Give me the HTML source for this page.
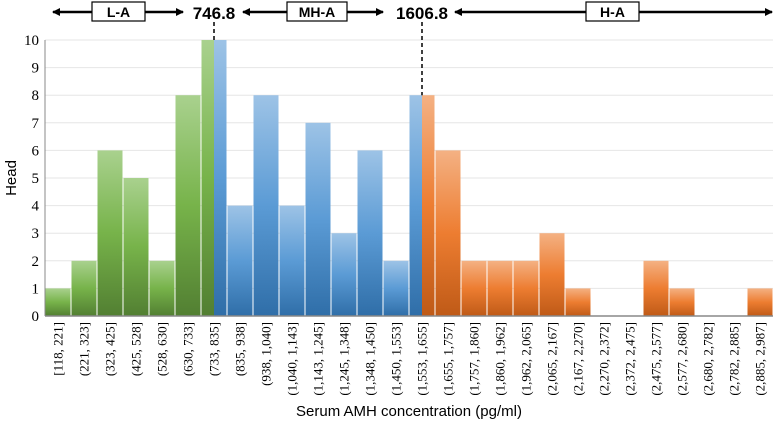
<!DOCTYPE html>
<html><head><meta charset="utf-8"><style>
html,body{margin:0;padding:0;background:#fff;}
svg{display:block;}
</style></head><body>
<svg id="chart" width="775" height="428" viewBox="0 0 775 428" xmlns="http://www.w3.org/2000/svg">
<defs>
<linearGradient id="gG" x1="0" y1="0" x2="0" y2="1"><stop offset="0" stop-color="#a9d18e"/><stop offset="0.5" stop-color="#77b34a"/><stop offset="1" stop-color="#527f32"/></linearGradient>
<linearGradient id="gB" x1="0" y1="0" x2="0" y2="1"><stop offset="0" stop-color="#9dc3e6"/><stop offset="0.5" stop-color="#5b9bd5"/><stop offset="1" stop-color="#2f6ea8"/></linearGradient>
<linearGradient id="gO" x1="0" y1="0" x2="0" y2="1"><stop offset="0" stop-color="#f4b183"/><stop offset="0.5" stop-color="#ed7d31"/><stop offset="1" stop-color="#bf5a17"/></linearGradient>
<marker id="ah" markerWidth="8" markerHeight="8" refX="7" refY="4" orient="auto-start-reverse" markerUnits="userSpaceOnUse"><path d="M0,0 L8,4 L0,8 Z" fill="#000"/></marker>
</defs>
<g id="grid"></g>
<g id="bars"></g>
<g id="axes"></g>
<g id="annot"></g>
<text transform="translate(16,178) rotate(-90)" text-anchor="middle" font-family="Liberation Sans, sans-serif" font-size="15">Head</text>
<text x="409" y="416" text-anchor="middle" font-family="Liberation Sans, sans-serif" font-size="15">Serum AMH concentration (pg/ml)</text>
</svg>
<script>
const categories = ["[118, 221]","(221, 323]","(323, 425]","(425, 528]","(528, 630]","(630, 733]","(733, 835]","(835, 938]","(938, 1,040]","(1,040, 1,143]","(1,143, 1,245]","(1,245, 1,348]","(1,348, 1,450]","(1,450, 1,553]","(1,553, 1,655]","(1,655, 1,757]","(1,757, 1,860]","(1,860, 1,962]","(1,962, 2,065]","(2,065, 2,167]","(2,167, 2,270]","(2,270, 2,372]","(2,372, 2,475]","(2,475, 2,577]","(2,577, 2,680]","(2,680, 2,782]","(2,782, 2,885]","(2,885, 2,987]"];
const counts = [1,2,6,5,2,8,10,4,8,4,7,3,6,2,8,6,2,2,2,3,1,0,0,2,1,0,0,1];
const binEdges = [118,221,323,425,528,630,733,835,938,1040,1143,1245,1348,1450,1553,1655,1757,1860,1962,2065,2167,2270,2372,2475,2577,2680,2782,2885,2987];
const cutoffs = [746.8, 1606.8];
const cutoffLabels = ["746.8","1606.8"];
const yTicks = [0,1,2,3,4,5,6,7,8,9,10];

const NS="http://www.w3.org/2000/svg";
const L=45,R=773,T=40,B=316,yMax=10;
const n=categories.length, bw=(R-L)/n;
const y=v=>B-(v/yMax)*(B-T);
function mk(tag,attrs,parent){const e=document.createElementNS(NS,tag);for(const k in attrs)e.setAttribute(k,attrs[k]);parent.appendChild(e);return e;}
const grid=document.getElementById('grid'),bars=document.getElementById('bars'),axes=document.getElementById('axes'),annot=document.getElementById('annot');
function binOf(c){for(let i=0;i<n;i++){if(c>binEdges[i]&&c<=binEdges[i+1])return i;}return 0;}
function cutX(c){return L+binOf(c)*bw+bw/2;}
const cx=cutoffs.map(cutX);
yTicks.forEach(t=>{
  if(t>0){const g=mk('line',{x1:L,x2:R,y1:y(t),y2:y(t),stroke:'#e6e6e6','stroke-width':1},grid);
  
  }
  const tx=mk('text',{x:L-6,y:y(t)+5,'text-anchor':'end','font-family':'Liberation Serif, serif','font-size':15},axes);
  tx.textContent=t;
  
  
});
function grad(x){return x<cx[0]?'url(#gG)':(x<cx[1]?'url(#gB)':'url(#gO)');}
counts.forEach((v,i)=>{
  const x0=L+i*bw,x1=x0+bw;
  const segs=[[x0,x1]];
  cx.forEach(c=>{if(c>x0&&c<x1){segs.length=0;segs.push([x0,c],[c,x1]);}});
  segs.forEach(([a,b],j)=>{
    if(v<=0)return;
    const r=mk('rect',{x:a+(j===0?0.5:0),y:y(v),width:b-a-(segs.length>1?0.5:1),height:B-y(v),fill:grad((a+b)/2)},bars);
    
    
  });
  const lx=x0+bw/2+4.5;
  const t=mk('text',{transform:'translate('+lx+',322) rotate(-90)','text-anchor':'end','font-family':'Liberation Serif, serif','font-size':13},axes);
  t.textContent=categories[i];
  
  
});
const ax=mk('line',{x1:L,x2:R,y1:B,y2:B,stroke:'#888','stroke-width':1.5},axes);


const ay=mk('line',{x1:L,x2:L,y1:T,y2:B,stroke:'#888','stroke-width':1},axes);


const ya=12;
cx.forEach((c,k)=>{
  const d=mk('line',{x1:c,x2:c,y1:22,y2:y(counts[binOf(cutoffs[k])]),stroke:'#000','stroke-width':1.5,'stroke-dasharray':'4,3'},annot);
  
  
  const t=mk('text',{x:c,y:19,'text-anchor':'middle','font-family':'Liberation Sans, sans-serif','font-size':17,'font-weight':'bold'},annot);
  t.textContent=cutoffLabels[k];
  
  
});
const groups=[["L-A",53,92,145,183],["MH-A",243,287,347,383],["H-A",455,586,639,772]];
groups.forEach(([lab,a,b,c,d])=>{
  const l1=mk('line',{x1:b,x2:a,y1:ya,y2:ya,stroke:'#000','stroke-width':2.5,'marker-end':'url(#ah)'},annot);
  
  
  const l2=mk('line',{x1:c,x2:d,y1:ya,y2:ya,stroke:'#000','stroke-width':2.5,'marker-end':'url(#ah)'},annot);
  
  
  const bx=mk('rect',{x:b,y:2,width:c-b,height:19,fill:'#fff',stroke:'#000','stroke-width':1.2},annot);
  
  
  const t=mk('text',{x:(b+c)/2,y:17,'text-anchor':'middle','font-family':'Liberation Sans, sans-serif','font-size':14,'font-weight':'bold'},annot);
  t.textContent=lab;
  
  
});
</script>
</body></html>
